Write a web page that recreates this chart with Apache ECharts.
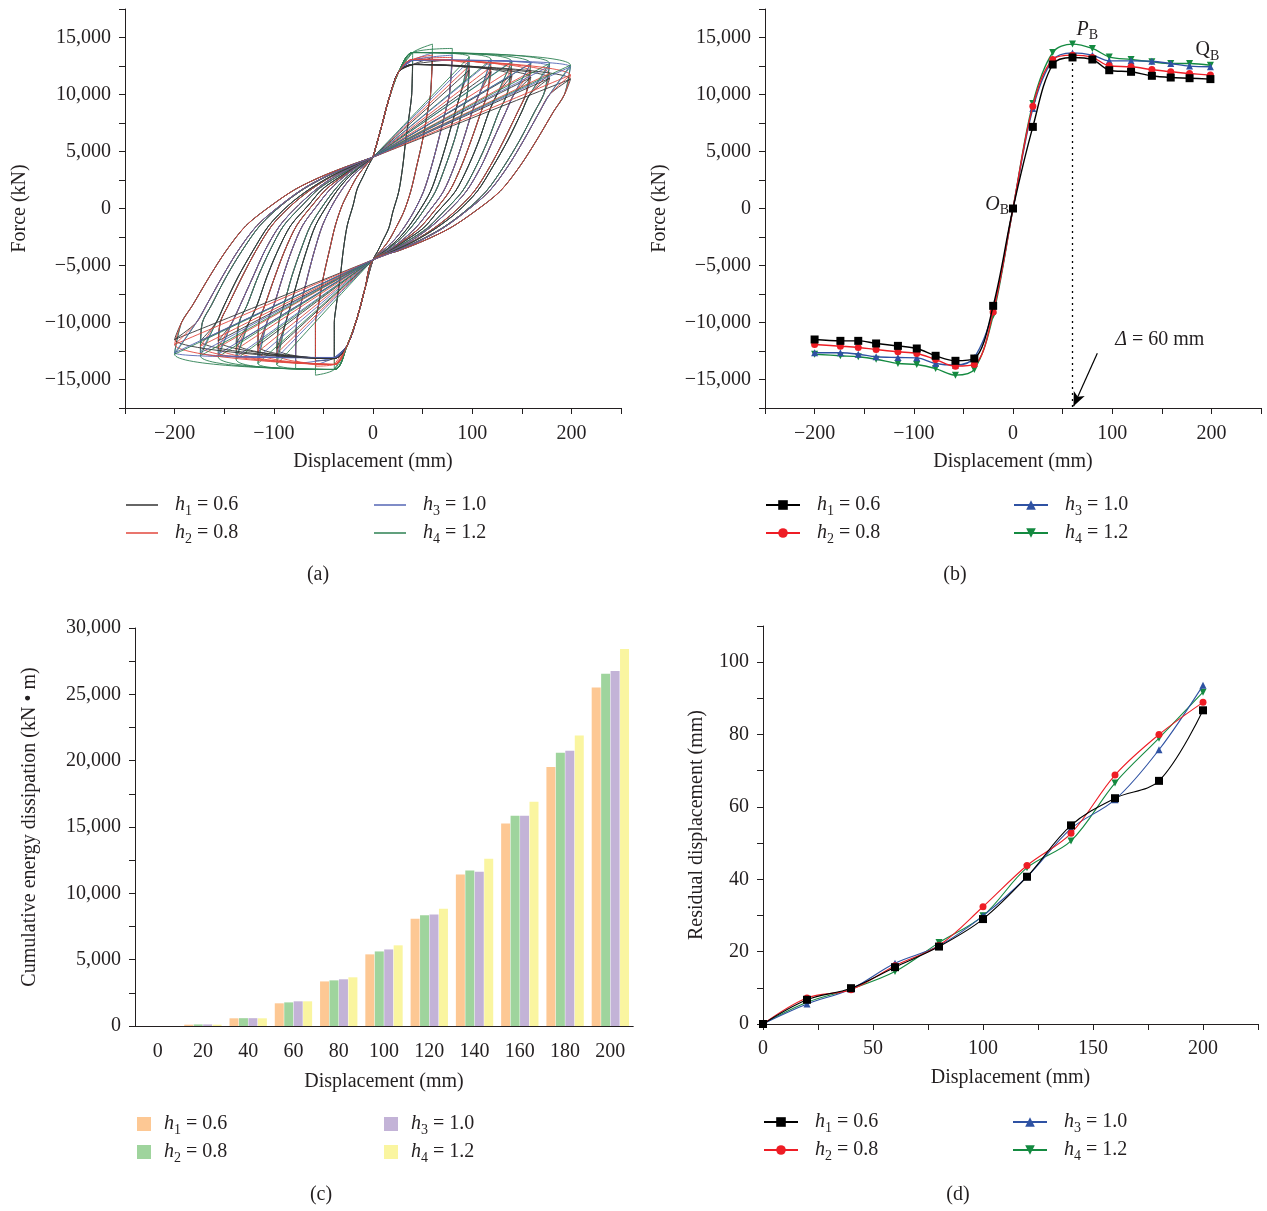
<!DOCTYPE html>
<html>
<head>
<meta charset="utf-8">
<script src="https://cdn.jsdelivr.net/npm/echarts@6/dist/echarts.min.js"></script>
<style>
html, body { margin: 0; padding: 0; background: #fff; }
#page { position: relative; width: 1267px; height: 1211px; }
.panel { position: absolute; width: 634px; height: 605px; }
</style>
</head>
<body>
<div id="page">
  <div id="chartA" class="panel" style="left:0;top:0"></div>
  <div id="chartB" class="panel" style="left:633px;top:0"></div>
  <div id="chartC" class="panel" style="left:0;top:600px;height:611px"></div>
  <div id="chartD" class="panel" style="left:633px;top:600px;height:611px"></div>
</div>
<script>
const seriesNames = ['h1 = 0.6', 'h2 = 0.8', 'h3 = 1.0', 'h4 = 1.2'];

// (b) skeleton curves, force in kN at each peak displacement
const skelX = [-200, -174, -156, -138, -116, -97, -78, -58, -39, -20, 0, 20, 40, 60, 80, 97, 119, 140, 159, 178, 199];
const skelH1 = [-11490, -11610, -11610, -11840, -12050, -12280, -12920, -13360, -13160, -8540, 0, 7160, 12630, 13250, 13070, 12130, 11990, 11640, 11490, 11430, 11350];
const skelH2 = [-11930, -12080, -12190, -12370, -12570, -12720, -13250, -13830, -13680, -9070, 0, 8980, 13070, 13450, 13250, 12520, 12430, 12190, 11990, 11840, 11700];
const skelH3 = [-12660, -12660, -12780, -13010, -13070, -13100, -13600, -13740, -13070, -8920, 0, 8770, 13010, 13650, 13450, 12950, 12950, 12920, 12720, 12490, 12430];
const skelH4 = [-12780, -12920, -13010, -13220, -13600, -13680, -14040, -14620, -14120, -9360, 0, 9210, 13680, 14420, 14040, 13300, 13070, 12870, 12720, 12720, 12570];

// (a) hysteresis branches (positive side; the negative side is its mirror)
const riseBranch = [[0, 4500], [8, 7000], [16, 9600], [26, 12000]];
// first cycle at each amplitude (40 ... 200 mm)
const unloadFirst = [
  [[39, 10000], [37, 8500], [33, 6000], [30, 3700], [26, 1500], [20, -300], [16, -1700], [10, -2800], [5, -3700], [0, -4500]],
  [[58, 10000], [55, 8500], [50, 6000], [44, 3700], [38, 1500], [31, -300], [23, -1700], [16, -2800], [8, -3700], [0, -4500]],
  [[77, 10000], [73, 8500], [66, 6000], [59, 3700], [51, 1500], [41, -300], [31, -1700], [21, -2800], [10, -3700], [0, -4500]],
  [[95, 10000], [90, 8500], [82, 6000], [73, 3700], [63, 1500], [50, -300], [38, -1700], [26, -2800], [13, -3700], [0, -4500]],
  [[115, 10000], [109, 8500], [99, 6000], [89, 3700], [77, 1500], [61, -300], [47, -1700], [31, -2800], [16, -3700], [0, -4500]],
  [[135, 10000], [127, 8500], [116, 6000], [104, 3700], [90, 1500], [71, -300], [55, -1700], [36, -2800], [18, -3700], [0, -4500]],
  [[154, 10000], [146, 8500], [132, 6000], [118, 3700], [102, 1500], [82, -300], [62, -1700], [42, -2800], [21, -3700], [0, -4500]],
  [[172, 10000], [163, 8500], [148, 6000], [132, 3700], [114, 1500], [92, -300], [70, -1700], [47, -2800], [23, -3700], [0, -4500]],
  [[193, 10000], [182, 8500], [165, 6000], [148, 3700], [128, 1500], [102, -300], [78, -1700], [52, -2800], [26, -3700], [0, -4500]]
];
// repeated cycle at amplitudes 97 ... 200 mm (reloads along the diagonal, unloads a little further in)
const unloadRepeat = [
  [[88, 10000], [83, 8500], [75, 6000], [67, 3700], [58, 1500], [46, -300], [35, -1700], [24, -2800], [12, -3700], [0, -4500]],
  [[107, 10000], [100, 8500], [91, 6000], [82, 3700], [71, 1500], [56, -300], [43, -1700], [29, -2800], [15, -3700], [0, -4500]],
  [[125, 10000], [117, 8500], [107, 6000], [96, 3700], [83, 1500], [65, -300], [51, -1700], [33, -2800], [17, -3700], [0, -4500]],
  [[142, 10000], [134, 8500], [121, 6000], [109, 3700], [94, 1500], [75, -300], [57, -1700], [39, -2800], [19, -3700], [0, -4500]],
  [[158, 10000], [150, 8500], [136, 6000], [121, 3700], [105, 1500], [85, -300], [64, -1700], [43, -2800], [21, -3700], [0, -4500]],
  [[178, 10000], [168, 8500], [152, 6000], [136, 3700], [117, 1500], [93, -300], [71, -1700], [48, -2800], [24, -3700], [0, -4500]]
];

// (c) cumulative energy dissipation (kN·m)
const energyCats = ['0', '20', '40', '60', '80', '100', '120', '140', '160', '180', '200'];
const energyH1 = [0, 100, 580, 1710, 3360, 5400, 8080, 11420, 15260, 19530, 25510];
const energyH2 = [0, 120, 590, 1780, 3440, 5620, 8340, 11720, 15840, 20590, 26560];
const energyH3 = [0, 120, 590, 1860, 3520, 5770, 8410, 11620, 15840, 20740, 26760];
const energyH4 = [0, 100, 580, 1860, 3670, 6080, 8840, 12600, 16900, 21890, 28420];

// (d) residual displacement (mm)
const residX = [0, 20, 40, 60, 80, 100, 120, 140, 160, 180, 200];
const residH1 = [0, 6.7, 9.9, 15.7, 21.4, 29.0, 40.7, 54.9, 62.4, 67.2, 86.7];
const residH2 = [0, 7.2, 9.5, 16.1, 21.7, 32.4, 43.8, 52.7, 68.8, 80.0, 88.9];
const residH3 = [0, 5.5, 9.7, 16.8, 21.6, 29.9, 40.7, 54.0, 62.0, 75.8, 93.6];
const residH4 = [0, 6.0, 9.7, 14.5, 22.5, 29.9, 43.2, 50.6, 66.6, 79.0, 91.7];

const serif = 'Liberation Serif';
const ink = '#231f20';
const lineColors = ['#000000', '#ee1d25', '#2f52a3', '#148a40'];
const hystColors = ['#333333', '#e2473d', '#5566b4', '#2c8052'];
const barColors = ['#fdc894', '#9fd49d', '#c3b3d7', '#faf5a0'];

function fmt(v) {
  return (v < 0 ? '\u2212' : '') + Math.abs(v).toLocaleString('en-US');
}

function valueAxis(min, max, step, labelStep, name, nameGap, labelMargin) {
  return {
    type: 'value', min: min, max: max, interval: step,
    name: name, nameLocation: 'middle', nameGap: nameGap,
    nameTextStyle: { fontFamily: serif, fontSize: 20, color: ink },
    axisLine: { show: true, onZero: false, lineStyle: { color: ink, width: 1 } },
    axisTick: { show: true, length: 6, lineStyle: { color: ink, width: 1 } },
    splitLine: { show: false },
    axisLabel: {
      margin: labelMargin || 14, fontFamily: serif, fontSize: 20, color: ink,
      formatter: function (v) { return Math.abs(v % labelStep) < 1e-6 ? fmt(v) : ''; }
    }
  };
}

const legendRich = {
  i: { fontStyle: 'italic', fontFamily: serif, fontSize: 20, color: ink, lineHeight: 26, verticalAlign: 'middle' },
  s: { fontFamily: serif, fontSize: 14, color: ink, lineHeight: 14, verticalAlign: 'bottom' },
  t: { fontFamily: serif, fontSize: 20, color: ink, lineHeight: 26, verticalAlign: 'middle' }
};

function legendFmt(name) {
  return '{i|h}{s|' + name.charAt(1) + '}{t| ' + name.slice(3) + '}';
}

function legendPair(lefts, top, iconW, iconH, icon, textPad) {
  return [0, 1].map(function (c) {
    const lg = {
      data: seriesNames.slice(c * 2, c * 2 + 2),
      orient: 'vertical', left: lefts[c], top: top, padding: 0,
      itemGap: 5, itemWidth: iconW, itemHeight: iconH,
      selectedMode: false,
      formatter: legendFmt,
      textStyle: { rich: legendRich, padding: [0, 0, 0, textPad] }
    };
    if (icon) lg.icon = icon;
    return lg;
  });
}

function caption(text, x, y) {
  return {
    type: 'text', x: x, y: y,
    style: { text: text, font: '20px "Liberation Serif"', fill: ink, align: 'center', verticalAlign: 'middle' }
  };
}

const neg = function (p) { return [-p[0], -p[1]]; };

// one path segment per cycle: starts and ends at the upper pinch point
function hystSegments(skel) {
  const segs = [];
  const top40 = [skelX[12], skel[12]];
  const bot40 = [skelX[8], skel[8]];
  unloadFirst.forEach(function (branch, k) {
    const i = k + 2;
    const peak = [skelX[10 + i], skel[10 + i]];
    const valley = [skelX[10 - i], skel[10 - i]];
    const up = k === 0 ? [peak] : [top40, peak];
    const down = k === 0 ? [valley] : [bot40, valley];
    segs.push([].concat(riseBranch, up, branch, riseBranch.slice(1).map(neg), down, branch.map(neg)));
    if (k >= 3) {
      const rep = unloadRepeat[k - 3];
      segs.push([].concat([riseBranch[0], peak], rep, [valley], rep.map(neg)));
    }
  });
  return segs;
}

// ---------- (a) hysteresis curves ----------
const hystSeries = [];
const segsBySeries = [skelH1, skelH2, skelH3, skelH4].map(hystSegments);
segsBySeries[0].forEach(function (_, j) {
  // rotate the draw order so every colour ends up on top of some cycles
  for (let r = 1; r <= 4; r++) {
    const s = (j + r) % 4;
    hystSeries.push({
      name: seriesNames[s], type: 'line', data: segsBySeries[s][j],
      showSymbol: false, symbol: 'none', smooth: 0.3,
      color: hystColors[s],
      lineStyle: { width: 0.9, color: hystColors[s] }
    });
  }
});

const chartA = echarts.init(document.getElementById('chartA'));
chartA.setOption({
  animation: false,
  grid: { left: 125, top: 9, width: 496, height: 399 },
  xAxis: valueAxis(-250, 250, 50, 100, 'Displacement (mm)', 44, 16),
  yAxis: valueAxis(-17500, 17500, 2500, 5000, 'Force (kN)', 95),
  legend: legendPair([126, 374], 495, 32, 1.5, 'rect', 12),
  graphic: [caption('(a)', 318, 575)],
  series: hystSeries
});

// ---------- (b) skeleton curves ----------
const symbols = ['rect', 'circle', 'triangle', 'triangle'];
const chartB = echarts.init(document.getElementById('chartB'));
chartB.setOption({
  animation: false,
  grid: { left: 132, top: 9, width: 496, height: 399 },
  xAxis: valueAxis(-250, 250, 50, 100, 'Displacement (mm)', 44, 16),
  yAxis: valueAxis(-17500, 17500, 2500, 5000, 'Force (kN)', 95),
  legend: legendPair([132, 380], 495, 34, 12, null, 12),
  graphic: [caption('(b)', 322, 575)],
  series: [skelH1, skelH2, skelH3, skelH4].map(function (skel, s) {
    const ser = {
      name: seriesNames[s], type: 'line',
      data: skelX.map(function (x, i) { return [x, skel[i]]; }),
      symbol: symbols[s], symbolSize: s === 0 ? 8 : 7,
      symbolRotate: s === 3 ? 180 : 0,
      smooth: 0.35, z: 10 - s,
      color: lineColors[s],
      lineStyle: { width: 1.4, color: lineColors[s] },
      itemStyle: { color: lineColors[s] }
    };
    if (s === 0) {
      ser.markLine = {
        silent: true, animation: false, label: { show: false },
        symbol: 'none',
        data: [
          [{ coord: [60, 13300], lineStyle: { type: [2, 4], color: '#000', width: 1.3 } }, { coord: [60, -17500] }],
          [{ coord: [85, -12700], symbol: 'none', lineStyle: { type: 'solid', color: '#000', width: 1.2 } },
           { coord: [61, -17350], symbol: 'arrow', symbolSize: [9, 14] }]
        ]
      };
      ser.markPoint = {
        symbol: 'circle', symbolSize: 0, silent: true,
        label: { show: true, position: 'inside', color: ink, rich: legendRich },
        data: [
          { coord: [75, 15700], label: { formatter: '{i|P}{s|B}' } },
          { coord: [196, 13900], label: { formatter: '{t|Q}{s|B}' } },
          { coord: [-16, 350], label: { formatter: '{i|O}{s|B}' } },
          { coord: [148, -11500], label: { formatter: '{i|\u0394}{t| = 60 mm}' } }
        ]
      };
    }
    return ser;
  })
});

// ---------- (c) cumulative energy dissipation ----------
const chartC = echarts.init(document.getElementById('chartC'));
const catAxisBase = {
  type: 'category', data: energyCats, position: 'bottom',
  axisLine: { show: true, lineStyle: { color: ink, width: 1 } },
  splitLine: { show: false }
};
chartC.setOption({
  animation: false,
  grid: { left: 135, top: 28, width: 498, height: 398 },
  xAxis: [
    Object.assign({}, catAxisBase, {
      name: 'Displacement (mm)', nameLocation: 'middle', nameGap: 46,
      nameTextStyle: { fontFamily: serif, fontSize: 20, color: ink },
      axisTick: { alignWithLabel: true, length: 6, lineStyle: { color: ink } },
      axisLabel: { margin: 16, fontFamily: serif, fontSize: 20, color: ink, interval: 0 }
    }),
    Object.assign({}, catAxisBase, {
      axisTick: { length: 6, lineStyle: { color: ink } },
      axisLabel: { show: false }
    })
  ],
  yAxis: valueAxis(0, 30000, 2500, 5000, 'Cumulative energy dissipation (kN \u2022 m)', 95),
  legend: legendPair([137, 384], 514, 14, 14, 'rect', 8),
  graphic: [caption('(c)', 321, 595)],
  series: [energyH1, energyH2, energyH3, energyH4].map(function (vals, s) {
    return {
      name: seriesNames[s], type: 'bar', data: vals, xAxisIndex: 0,
      barWidth: 9, barGap: '5%',
      color: barColors[s], itemStyle: { color: barColors[s] }
    };
  })
});

// ---------- (d) residual displacement ----------
const chartD = echarts.init(document.getElementById('chartD'));
chartD.setOption({
  animation: false,
  grid: { left: 130, top: 26, width: 495, height: 398 },
  xAxis: valueAxis(0, 225, 25, 50, 'Displacement (mm)', 44, 15),
  yAxis: valueAxis(0, 110, 10, 20, 'Residual displacement (mm)', 56),
  legend: legendPair([130, 379], 512, 34, 12, null, 12),
  graphic: [caption('(d)', 325, 595)],
  series: [residH1, residH2, residH3, residH4].map(function (vals, s) {
    return {
      name: seriesNames[s], type: 'line',
      data: residX.map(function (x, i) { return [x, vals[i]]; }),
      symbol: symbols[s], symbolSize: s === 0 ? 8 : 7,
      symbolRotate: s === 3 ? 180 : 0,
      showSymbol: true,
      smooth: 0.35, z: 10 - s,
      color: lineColors[s],
      lineStyle: { width: 1.1, color: lineColors[s] },
      itemStyle: { color: lineColors[s] }
    };
  })
});
</script>
</body>
</html>
